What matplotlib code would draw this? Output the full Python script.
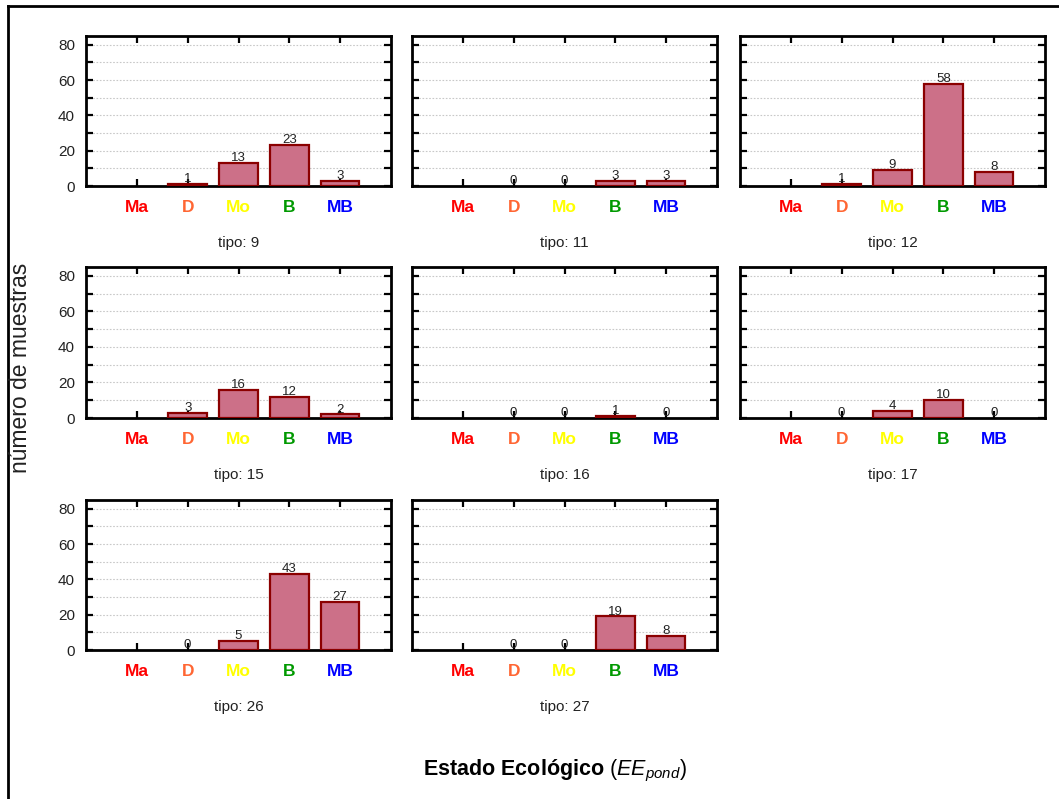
import matplotlib
matplotlib.use("Agg")
import matplotlib.pyplot as plt
import numpy as np
from matplotlib.ticker import MultipleLocator
from matplotlib.lines import Line2D

plt.rcParams['font.family'] = ['Liberation Sans', 'DejaVu Sans']
plt.rcParams['mathtext.fontset'] = 'custom'
plt.rcParams['mathtext.rm'] = 'Liberation Sans'
plt.rcParams['mathtext.it'] = 'Liberation Sans:italic'
plt.rcParams['mathtext.bf'] = 'Liberation Sans:bold'

categorias = ["Ma", "D", "Mo", "B", "MB"]
colores_cat = ["#FF0000", "#FF6633", "#FFFF00", "#009900", "#0000FF"]

tipos = ["9", "11", "12", "15", "16", "17", "26", "27"]
# None = sin dato (no se dibuja barra ni etiqueta)
valores = {
    "9":  [None, 1, 13, 23, 3],
    "11": [None, 0, 0, 3, 3],
    "12": [None, 1, 9, 58, 8],
    "15": [None, 3, 16, 12, 2],
    "16": [None, 0, 0, 1, 0],
    "17": [None, 0, 4, 10, 0],
    "26": [None, 0, 5, 43, 27],
    "27": [None, 0, 0, 19, 8],
}

W, H = 1059, 799
fig = plt.figure(figsize=(W / 100, H / 100), dpi=100)

col_x = [86, 412, 740]
ancho = 305
fila_y = [(36, 186), (267, 418), (500, 650)]


def rect(x0, y_top, y_bot):
    return [x0 / W, 1 - y_bot / H, ancho / W, (y_bot - y_top) / H]


for i, tipo in enumerate(tipos):
    fila, col = divmod(i, 3)
    y_top, y_bot = fila_y[fila]
    ax = fig.add_axes(rect(col_x[col], y_top, y_bot))
    vals = valores[tipo]
    x = np.arange(len(categorias))
    xs = [xi for xi, v in zip(x, vals) if v]
    hs = [v for v in vals if v]
    ax.bar(xs, hs, width=0.76, color="#CC7088", edgecolor="#8B0000",
           linewidth=1.6, zorder=3)
    for xi, v in zip(x, vals):
        if v is None:
            continue
        ax.text(xi, v - 0.6, str(v), ha="center", va="bottom", fontsize=9.5,
                color="#222222", zorder=4)
    ax.set_xlim(-1.0, 5.0)
    ax.set_ylim(0, 85)
    ax.yaxis.set_major_locator(MultipleLocator(20))
    ax.yaxis.set_minor_locator(MultipleLocator(10))
    ax.set_xticks(x)
    ax.set_xticklabels(categorias, fontweight="bold", fontsize=12.5)
    for lab, c in zip(ax.get_xticklabels(), colores_cat):
        lab.set_color(c)
    ax.tick_params(axis="both", which="both", direction="in", top=True,
                   right=True, width=1.6, length=5)
    ax.tick_params(axis="x", pad=10)
    ax.tick_params(axis="y", labelsize=11, pad=8, labelcolor="#222222")
    if col != 0:
        ax.tick_params(axis="y", labelleft=False)
    ax.grid(axis="y", which="both", linestyle=(0, (1.5, 1.5)), color="#C8C8C8",
            linewidth=0.8, zorder=0)
    for s in ax.spines.values():
        s.set_linewidth(2)
    ax.set_xlabel("tipo: " + tipo, fontsize=11, labelpad=15, color="#222222")

fig.text(21 / W, 1 - 368 / H, "número de muestras", rotation=90,
         ha="center", va="center", fontsize=16.5, color="#222222")
fig.text(555 / W, 1 - 771 / H,
         r"$\mathbf{Estado\ Ecológico}$ ($\mathit{EE}_{\mathit{pond}}$)",
         ha="center", va="center", fontsize=15.5)

# marco exterior (izquierda y arriba)
fig.add_artist(Line2D([8 / W, 8 / W], [0, 1 - 6 / H], transform=fig.transFigure,
                      color="black", linewidth=2))
fig.add_artist(Line2D([8 / W, 1], [1 - 6 / H, 1 - 6 / H], transform=fig.transFigure,
                      color="black", linewidth=2))

fig.savefig("out.png", dpi=100)
